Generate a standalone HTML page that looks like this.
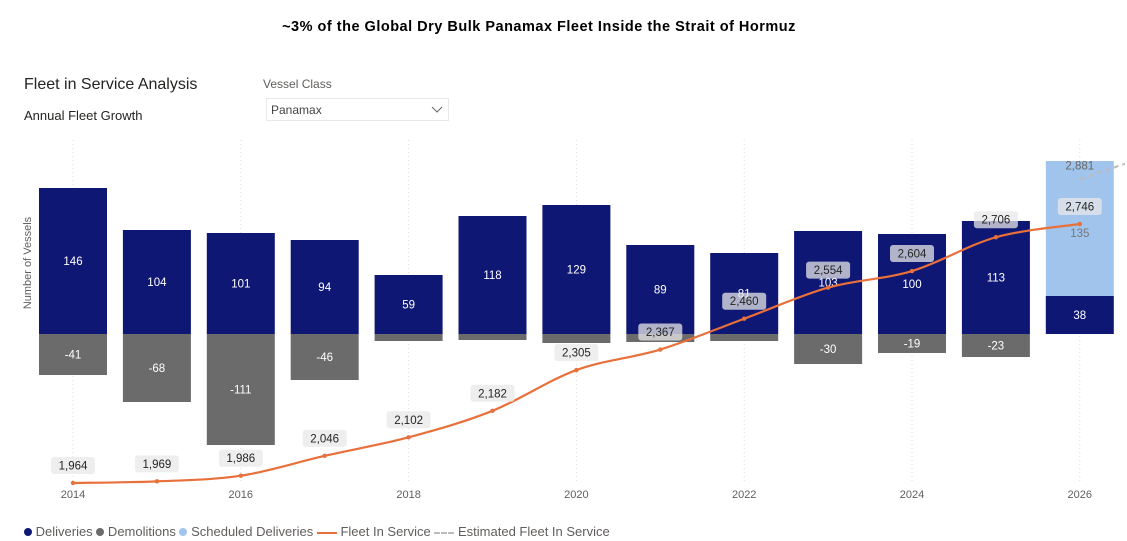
<!DOCTYPE html>
<html><head><meta charset="utf-8"><style>
body{margin:0;width:1127px;height:541px;background:#fff;font-family:"Liberation Sans",sans-serif;overflow:hidden;position:relative}
.a{position:absolute}
</style></head><body>
<div class="a" style="left:0;width:1078px;top:19px;text-align:center;font-weight:900;font-size:14.5px;color:#000;letter-spacing:0.5px">~3% of the Global Dry Bulk Panamax Fleet Inside the Strait of Hormuz</div>
<div class="a" style="left:24px;top:76px;font-size:16px;color:#252423">Fleet in Service Analysis</div>
<div class="a" style="left:24px;top:108px;font-size:13px;color:#252423">Annual Fleet Growth</div>
<div class="a" style="left:263px;top:77px;font-size:12px;color:#605e5c">Vessel Class</div>
<div class="a" style="left:266px;top:98px;width:183px;height:23px;border:1px solid #e8e8e8;font-size:12px;color:#444;line-height:23px;box-sizing:border-box;padding-left:4px">Panamax<svg style="position:absolute;right:5px;top:7px" width="12" height="8"><path d="M1 1 L6 6 L11 1" stroke="#666" fill="none"/></svg></div>
<div class="a" style="left:28px;top:263px;transform:translate(-50%,-50%) rotate(-90deg);font-size:11px;color:#605e5c;white-space:nowrap">Number of Vessels</div>
<svg class="a" style="left:0;top:0" width="1127" height="541" id="svg"></svg>
<div class="a" style="left:24px;top:524px;font-size:13px;color:#605e5c;white-space:nowrap">
<span><span style="display:inline-block;width:8px;height:8px;border-radius:50%;background:#0f1774"></span> Deliveries</span>
<span><span style="display:inline-block;width:8px;height:8px;border-radius:50%;background:#6b6b6b"></span> Demolitions</span>
<span><span style="display:inline-block;width:8px;height:8px;border-radius:50%;background:#a0c4ec"></span> Scheduled Deliveries</span>
<span><span style="display:inline-block;width:20px;height:2px;background:#e8703a;vertical-align:middle"></span> Fleet In Service</span>
<span><span style="display:inline-block;width:20px;border-top:2px dashed #bbb;vertical-align:middle"></span> Estimated Fleet In Service</span>
</div>
<script>
const years=[2014,2015,2016,2017,2018,2019,2020,2021,2022,2023,2024,2025,2026];
const deliveries=[146,104,101,94,59,118,129,89,81,103,100,113,38];
const demolitions=[-41,-68,-111,-46,-7,-6,-9,-8,-7,-30,-19,-23,0];
const scheduled=[0,0,0,0,0,0,0,0,0,0,0,0,135];
const fleet=[1964,1969,1986,2046,2102,2182,2305,2367,2460,2554,2604,2706,2746];
const estYears=[2026,2027];
const estFleet=[2881,2968];
const tickYears=[2014,2016,2018,2020,2022,2024,2026];
const svg=document.getElementById('svg');const NS='http://www.w3.org/2000/svg';
const x=y=>73+(y-2014)*83.9;
const yb=v=>334-v;
const yl=v=>483-(v-1964)*0.3312;
function mk(t,a,p){const e=document.createElementNS(NS,t);for(const k in a)e.setAttribute(k,a[k]);(p||svg).appendChild(e);return e;}
const clip=mk('clipPath',{id:'c'});mk('rect',{x:0,y:140,width:1125,height:360},clip);
tickYears.forEach(t=>{const l=mk('line',{x1:x(t),x2:x(t),y1:140,y2:482,stroke:'#ddd','stroke-dasharray':'1,3'});


const tx=mk('text',{x:x(t),y:498,'text-anchor':'middle','font-size':11,fill:'#605e5c'});tx.textContent=t;

});
const w=68;
years.forEach((yr,i)=>{const cx=x(yr);
if(demolitions[i]<0){const r=mk('rect',{x:cx-w/2,y:334,width:w,height:-demolitions[i],fill:'#6b6b6b'});


if(demolitions[i]<-15){const t=mk('text',{x:cx,y:334-demolitions[i]/2+4,'text-anchor':'middle','font-size':11.5,fill:'#fff'});t.textContent=demolitions[i];}}
const r=mk('rect',{x:cx-w/2,y:yb(deliveries[i]),width:w,height:deliveries[i],fill:'#0f1774'});


const t=mk('text',{x:cx,y:334-deliveries[i]/2+4,'text-anchor':'middle','font-size':11.5,fill:'#fff'});t.textContent=deliveries[i];
if(scheduled[i]>0){const s=mk('rect',{x:cx-w/2,y:yb(deliveries[i]+scheduled[i]),width:w,height:scheduled[i],fill:'#a0c4ec'});


const st=mk('text',{x:cx,y:yb(deliveries[i])-scheduled[i]+76,'text-anchor':'middle','font-size':11.5,fill:'#777'});st.textContent=scheduled[i];}
});
function path(px){let d='M'+px[0][0]+' '+px[0][1];for(let i=0;i<px.length-1;i++){const p0=px[i-1]||px[i],p1=px[i],p2=px[i+1],p3=px[i+2]||p2;
d+=' C'+(p1[0]+(p2[0]-p0[0])/6)+' '+(p1[1]+(p2[1]-p0[1])/6)+' '+(p2[0]-(p3[0]-p1[0])/6)+' '+(p2[1]-(p3[1]-p1[1])/6)+' '+p2[0]+' '+p2[1];}return d;}
const ep=estYears.map((y,i)=>[x(y),yl(estFleet[i])]);
const el=mk('path',{d:path(ep),stroke:'#bbb','stroke-width':2,fill:'none','stroke-dasharray':'5,4','clip-path':'url(#c)'});


const et=mk('text',{x:ep[0][0],y:ep[0][1]-10,'text-anchor':'middle','font-size':11.5,fill:'#666'});et.textContent=estFleet[0].toLocaleString('en-US');
const fp=years.map((y,i)=>[x(y),yl(fleet[i])]);
const fl=mk('path',{d:path(fp),stroke:'#e8703a','stroke-width':2.2,fill:'none'});


fp.forEach((p,i)=>{mk('circle',{cx:p[0],cy:p[1],r:2.2,fill:'#e8703a'});
const lab=fleet[i].toLocaleString('en-US');const bw=lab.length*6.4+12;
const b=mk('rect',{x:p[0]-bw/2,y:p[1]-26,width:bw,height:17,rx:3,fill:'rgba(232,232,232,0.75)'});


const t=mk('text',{x:p[0],y:p[1]-13.5,'text-anchor':'middle','font-size':11.5,fill:'#252423'});t.textContent=lab;});
</script>
</body></html>
